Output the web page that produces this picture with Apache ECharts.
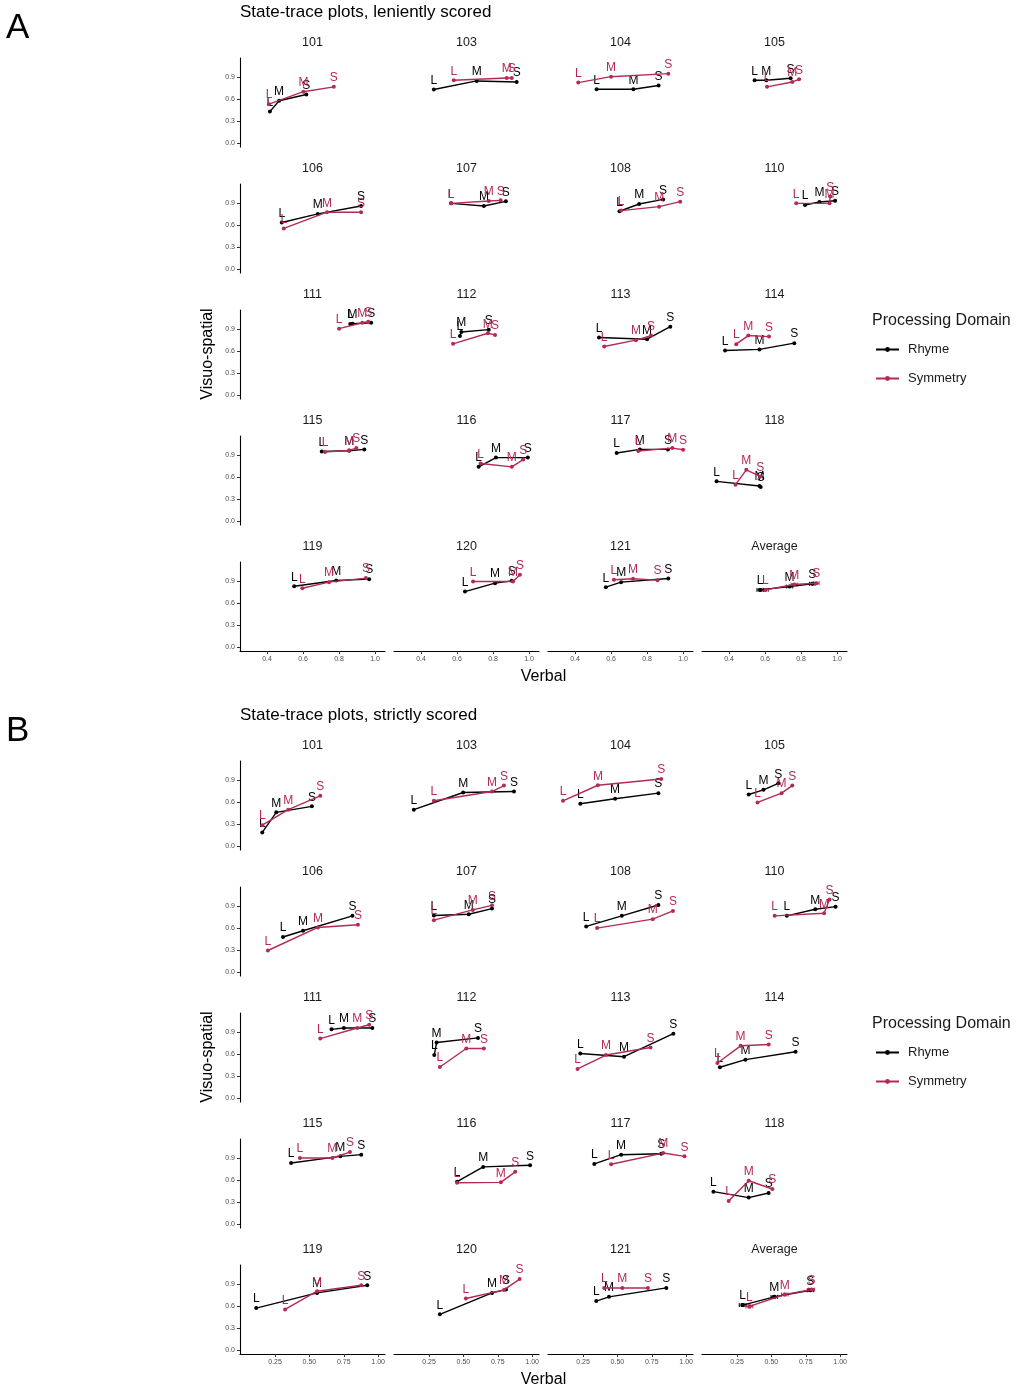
<!DOCTYPE html>
<html><head><meta charset="utf-8">
<script src="https://cdn.jsdelivr.net/npm/echarts@6/dist/echarts.min.js"></script>
<style>html,body{margin:0;padding:0;background:#fff}#c{width:1016px;height:1388px}</style>
</head><body><div id="c"></div>
<script>
// ---------- data ----------
const facets = ['101','103','104','105','106','107','108','110','111','112','113','114','115','116','117','118','119','120','121','Average'];
const levels = ['L','M','S'];
const domains = ['Rhyme','Symmetry'];
const yTicks = [0, 0.3, 0.6, 0.9];
const xTicksLenient = [0.4, 0.6, 0.8, 1.0];
const xTicksStrict = [0.25, 0.5, 0.75, 1.0];
const panelTitles = ['State-trace plots, leniently scored', 'State-trace plots, strictly scored'];
const panelLetters = ['A', 'B'];
const xAxisTitle = 'Verbal';
const yAxisTitle = 'Visuo-spatial';
const legendTitle = 'Processing Domain';

// Leniently scored, Rhyme (x = Verbal, y = Visuo-spatial), per facet L/M/S
const lenRhymeX = [[0.416,0.467,0.618],[0.471,0.709,0.931],[0.52,0.724,0.864],[0.542,0.607,0.742],
  [0.482,0.682,0.922],[0.567,0.749,0.871],[0.647,0.756,0.889],[0.822,0.902,0.989],
  [0.862,0.875,0.978],[0.616,0.624,0.776],[0.533,0.8,0.929],[0.378,0.569,0.762],
  [0.704,0.856,0.94],[0.72,0.816,0.993],[0.631,0.76,0.916],[0.331,0.569,0.576],
  [0.551,0.784,0.967],[0.644,0.811,0.904],[0.571,0.656,0.918],[0.573,0.736,0.862]];
const lenRhymeY = [[0.428,0.577,0.662],[0.73,0.847,0.833],[0.734,0.734,0.784],[0.856,0.856,0.883],
  [0.635,0.752,0.86],[0.896,0.86,0.923],[0.788,0.887,0.95],[0.874,0.914,0.932],
  [0.968,0.973,0.986],[0.806,0.86,0.892],[0.784,0.761,0.932],[0.608,0.622,0.707],
  [0.95,0.959,0.977],[0.739,0.865,0.865],[0.928,0.977,0.977],[0.541,0.477,0.463],
  [0.829,0.908,0.926],[0.756,0.871,0.903],[0.816,0.885,0.935],[0.779,0.825,0.862]];
// Leniently scored, Symmetry
const lenSymX = [[0.411,0.602,0.771],[0.582,0.876,0.904],[0.418,0.6,0.918],[0.611,0.751,0.789],
  [0.493,0.733,0.922],[0.567,0.776,0.842],[0.656,0.867,0.984],[0.773,0.958,0.962],
  [0.8,0.929,0.962],[0.578,0.771,0.811],[0.562,0.738,0.822],[0.44,0.507,0.622],
  [0.722,0.856,0.896],[0.731,0.904,0.967],[0.751,0.94,1.0],[0.436,0.496,0.573],
  [0.596,0.744,0.949],[0.689,0.911,0.949],[0.616,0.722,0.858],[0.602,0.762,0.884]];
const lenSymY = [[0.53,0.70,0.766],[0.856,0.887,0.887],[0.824,0.905,0.946],[0.766,0.833,0.869],
  [0.554,0.775,0.775],[0.896,0.928,0.937],[0.797,0.851,0.919],[0.896,0.896,0.99],
  [0.905,0.986,1.0],[0.698,0.842,0.82],[0.662,0.748,0.811],[0.694,0.811,0.797],
  [0.941,0.964,0.995],[0.784,0.739,0.838],[0.955,0.995,0.973],[0.495,0.698,0.608],
  [0.802,0.885,0.94],[0.894,0.894,0.986],[0.917,0.931,0.912],[0.779,0.853,0.871]];
// Strictly scored, Rhyme
const strRhymeX = [[0.157,0.259,0.518],[0.139,0.498,0.868],[0.23,0.483,0.798],[0.335,0.442,0.55],
  [0.308,0.454,0.813],[0.285,0.539,0.708],[0.273,0.532,0.798],[0.612,0.819,0.967],
  [0.661,0.751,0.958],[0.288,0.305,0.606],[0.23,0.548,0.907],[0.125,0.311,0.676],
  [0.367,0.725,0.877],[0.454,0.644,0.985],[0.332,0.527,0.819],[0.078,0.335,0.48],
  [0.113,0.556,0.921],[0.329,0.708,0.81],[0.346,0.439,0.856],[0.291,0.521,0.783]];
const strRhymeY = [[0.185,0.459,0.541],[0.495,0.73,0.743],[0.577,0.644,0.721],[0.703,0.766,0.856],
  [0.477,0.563,0.766],[0.77,0.788,0.865],[0.622,0.766,0.914],[0.766,0.856,0.892],
  [0.937,0.955,0.955],[0.586,0.757,0.82],[0.608,0.563,0.878],[0.419,0.523,0.631],
  [0.833,0.923,0.946],[0.577,0.779,0.802],[0.82,0.946,0.959],[0.441,0.36,0.423],
  [0.572,0.779,0.883],[0.486,0.779,0.824],[0.667,0.725,0.847],[0.613,0.725,0.815]];
// Strictly scored, Symmetry
const strSymX = [[0.157,0.346,0.579],[0.285,0.708,0.795],[0.104,0.358,0.819],[0.399,0.574,0.652],
  [0.198,0.562,0.853],[0.285,0.568,0.708],[0.352,0.757,0.904],[0.524,0.883,0.923],
  [0.579,0.848,0.935],[0.329,0.521,0.649],[0.21,0.417,0.741],[0.107,0.276,0.48],
  [0.431,0.667,0.795],[0.454,0.772,0.877],[0.454,0.833,0.988],[0.189,0.335,0.507],
  [0.323,0.556,0.877],[0.518,0.795,0.909],[0.404,0.536,0.722],[0.34,0.597,0.792]];
const strSymY = [[0.284,0.495,0.685],[0.617,0.743,0.824],[0.617,0.829,0.914],[0.595,0.721,0.824],
  [0.293,0.608,0.644],[0.707,0.847,0.91],[0.599,0.721,0.833],[0.766,0.802,0.991],
  [0.811,0.955,1.0],[0.423,0.676,0.676],[0.396,0.586,0.689],[0.477,0.712,0.73],
  [0.901,0.901,0.982],[0.563,0.568,0.712],[0.815,0.968,0.923],[0.315,0.59,0.477],
  [0.554,0.802,0.883],[0.703,0.82,0.968],[0.847,0.847,0.847],[0.595,0.757,0.824]];
// Average facet error bars: [x half-widths L/M/S], [y half-widths L/M/S]
const lenAvgRhymeErr = [[0.018,0.018,0.016],[0.015,0.014,0.013]];
const lenAvgSymErr = [[0.018,0.017,0.016],[0.015,0.013,0.012]];
const strAvgRhymeErr = [[0.025,0.024,0.022],[0.02,0.018,0.017]];
const strAvgSymErr = [[0.025,0.024,0.022],[0.02,0.018,0.016]];

// ---------- style / layout ----------
const FONT = '"Liberation Sans", Arial, Helvetica, sans-serif';
const COLORS = {Rhyme: '#000000', Symmetry: '#b42a57'};
const L = {left0: 240, colStep: 154, gw: 145, top0: 58, rowStep: 126, gh: 89, panelStep: 703};
const Y_MIN = -0.055, Y_MAX = 1.16;

const panels = [
  {title: panelTitles[0], letter: panelLetters[0], xMin: 0.25, xMax: 1.055, xTicks: xTicksLenient, digits: 1,
   data: {Rhyme: [lenRhymeX, lenRhymeY, lenAvgRhymeErr], Symmetry: [lenSymX, lenSymY, lenAvgSymErr]}},
  {title: panelTitles[1], letter: panelLetters[1], xMin: -0.005, xMax: 1.05, xTicks: xTicksStrict, digits: 2,
   data: {Rhyme: [strRhymeX, strRhymeY, strAvgRhymeErr], Symmetry: [strSymX, strSymY, strAvgSymErr]}}
];

function txt(x, y, text, size, extra) {
  return {type: 'text', x: x, y: y, silent: true,
    style: Object.assign({text: text, fontSize: size, fontFamily: FONT, fill: '#000',
      align: 'left', verticalAlign: 'middle', textAlign: 'left', textVerticalAlign: 'middle'}, extra || {})};
}

function errRender(color) {
  return function (params, api) {
    const x = api.value(0), y = api.value(1), ex = api.value(2), ey = api.value(3);
    const a = api.coord([x - ex, y]), b = api.coord([x + ex, y]);
    const c = api.coord([x, y - ey]), d = api.coord([x, y + ey]);
    const cap = 2, st = {stroke: color, lineWidth: 1};
    return {type: 'group', children: [
      {type: 'line', shape: {x1: a[0], y1: a[1], x2: b[0], y2: b[1]}, style: st},
      {type: 'line', shape: {x1: a[0], y1: a[1] - cap, x2: a[0], y2: a[1] + cap}, style: st},
      {type: 'line', shape: {x1: b[0], y1: b[1] - cap, x2: b[0], y2: b[1] + cap}, style: st},
      {type: 'line', shape: {x1: c[0], y1: c[1], x2: d[0], y2: d[1]}, style: st},
      {type: 'line', shape: {x1: c[0] - cap, y1: c[1], x2: c[0] + cap, y2: c[1]}, style: st},
      {type: 'line', shape: {x1: d[0] - cap, y1: d[1], x2: d[0] + cap, y2: d[1]}, style: st}
    ]};
  };
}

const grids = [], xAxes = [], yAxes = [], series = [], graphics = [], legends = [];

panels.forEach(function (P, p) {
  const off = p * L.panelStep;
  graphics.push(txt(6, 28 + off, P.letter, 35));
  graphics.push(txt(240, 12 + off, P.title, 17));
  graphics.push(txt(543.5, 677 + off, xAxisTitle, 16, {align: 'center', textAlign: 'center'}));
  const yt = txt(208, 354 + off, yAxisTitle, 16, {align: 'center', textAlign: 'center'});
  yt.rotation = Math.PI / 2;
  graphics.push(yt);
  graphics.push(txt(872, 321 + off, legendTitle, 16, {fill: '#1a1a1a'}));
  legends.push({data: domains, orient: 'vertical', left: 870, top: 338 + off, padding: 5,
    itemWidth: 23, itemHeight: 6, itemGap: 16,
    selectedMode: false, textStyle: {fontSize: 13, color: '#1a1a1a', fontFamily: FONT, padding: [0, 0, 0, 4]}});

  facets.forEach(function (f, i) {
    const r = Math.floor(i / 4), c = i % 4, g = p * 20 + i;
    const left = L.left0 + c * L.colStep, top = L.top0 + r * L.rowStep + off;
    grids.push({left: left, top: top, width: L.gw, height: L.gh, containLabel: false});
    graphics.push(txt(left + L.gw / 2, top - 15, f, 12.5, {align: 'center', textAlign: 'center', fill: '#1a1a1a'}));
    const bottom = r === 4, leftCol = c === 0;
    xAxes.push({gridIndex: g, type: 'value', min: P.xMin, max: P.xMax,
      axisLine: {show: bottom, onZero: false, lineStyle: {color: '#000', width: 1.1}},
      axisTick: {show: bottom, customValues: P.xTicks, length: 3, lineStyle: {color: '#333', width: 1}},
      axisLabel: {show: bottom, customValues: P.xTicks, formatter: function (v) { return Number(v).toFixed(P.digits); },
        fontSize: 7, color: '#4d4d4d', margin: 5, fontFamily: FONT},
      splitLine: {show: false}});
    yAxes.push({gridIndex: g, type: 'value', min: Y_MIN, max: Y_MAX,
      axisLine: {show: leftCol, onZero: false, lineStyle: {color: '#000', width: 1.1}},
      axisTick: {show: leftCol, customValues: yTicks, length: 3, lineStyle: {color: '#333', width: 1}},
      axisLabel: {show: leftCol, customValues: yTicks, formatter: function (v) { return Number(v).toFixed(1); },
        fontSize: 7, color: '#4d4d4d', margin: 5, fontFamily: FONT},
      splitLine: {show: false}});

    domains.forEach(function (dname, di) {
      const D = P.data[dname];
      const xs = D[0][i], ys = D[1][i];
      const color = COLORS[dname];
      if (f === 'Average') {
        series.push({type: 'custom', name: dname + ' error', xAxisIndex: g, yAxisIndex: g, z: 1 + di,
          renderItem: errRender(color), animation: false, silent: true,
          data: xs.map(function (x, k) { return [x, ys[k], D[2][0][k], D[2][1][k]]; })});
      }
      series.push({type: 'line', name: dname, xAxisIndex: g, yAxisIndex: g, z: 2 + di * 2,
        data: xs.map(function (x, k) { return [x, ys[k]]; }),
        symbol: 'circle', symbolSize: 4, showSymbol: true, clip: false,
        lineStyle: {color: color, width: 1.4}, itemStyle: {color: color},
        label: {show: true, position: 'top', distance: 1, fontSize: 12, fontFamily: FONT, color: color,
          formatter: function (q) { return levels[q.dataIndex]; }},
        emphasis: {disabled: true}, animation: false, silent: true});
    });
  });
});

const chart = echarts.init(document.getElementById('c'), null, {renderer: 'canvas', width: 1016, height: 1388});
chart.setOption({
  backgroundColor: '#ffffff',
  animation: false,
  grid: grids, xAxis: xAxes, yAxis: yAxes, series: series,
  legend: legends,
  graphic: graphics
});
</script>
</body></html>
